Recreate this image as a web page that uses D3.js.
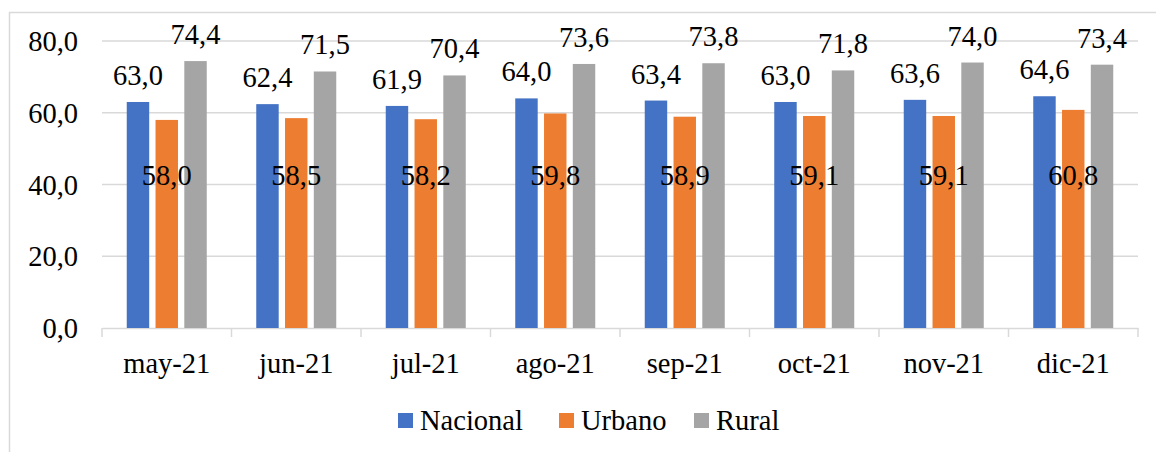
<!DOCTYPE html>
<html><head><meta charset="utf-8">
<script src="https://cdn.jsdelivr.net/npm/d3@7"></script>
<style>body{margin:0;background:#fff}svg{display:block}
svg text{font-family:"Liberation Serif","DejaVu Serif",serif !important;}</style>
</head><body>
<script>
const categories = ["may-21","jun-21","jul-21","ago-21","sep-21","oct-21","nov-21","dic-21"];
const seriesNames = ["Nacional","Urbano","Rural"];
const nacional = [63.0,62.4,61.9,64.0,63.4,63.0,63.6,64.6];
const urbano = [58.0,58.5,58.2,59.8,58.9,59.1,59.1,60.8];
const rural = [74.4,71.5,70.4,73.6,73.8,71.8,74.0,73.4];
const yTicks = [0,20,40,60,80];
const colors = ["#4472C4","#ED7D31","#A5A5A5"];

const W=1156,H=452;
const svg=d3.select("body").append("svg").attr("width",W).attr("height",H);
const fs=28.5;

// outer border
svg.append("rect").attr("x",9.5).attr("y",12.5).attr("width",W+20).attr("height",H+20)
  .attr("fill","none").attr("stroke","#d9d9d9").attr("stroke-width",1.5);

const x=d3.scaleBand().domain(categories).range([102,1138]).padding(0);
const y=d3.scaleLinear().domain([0,80]).range([328,41]);
const xs=d3.scaleBand().domain(seriesNames).range([-40,40]).paddingInner(0.22);

// grid
svg.append("g").selectAll("line").data(yTicks.filter(d=>d>0)).join("line")
  .attr("x1",102).attr("x2",1138).attr("y1",d=>y(d)).attr("y2",d=>y(d))
  .attr("stroke","#d9d9d9").attr("stroke-width",1.5);

// y axis labels
const yAxis=d3.axisLeft(y).tickValues(yTicks).tickSize(0).tickPadding(0)
  .tickFormat(d=>d3.format(".1f")(d).replace(".",","));
const ya=svg.append("g").attr("transform","translate(78,0)").call(yAxis);
ya.select(".domain").remove();
ya.selectAll("text").attr("font-size",fs).attr("fill","#000").attr("dy","0.34em");

// x axis
const xAxis=d3.axisBottom(x).tickSize(0).tickPadding(0);
const xa=svg.append("g").attr("transform","translate(0,328)").call(xAxis);
xa.select(".domain").attr("stroke","#d9d9d9").attr("stroke-width",1.5);
xa.selectAll("text").attr("font-size",fs).attr("fill","#000").attr("dy",0).attr("y",45);
// boundary ticks
const bounds=categories.map(c=>x(c)).concat([x.range()[1]]);
svg.append("g").selectAll("line").data(bounds).join("line")
  .attr("x1",d=>d).attr("x2",d=>d).attr("y1",328).attr("y2",337)
  .attr("stroke","#d9d9d9").attr("stroke-width",1.5);

const data=[nacional,urbano,rural];
seriesNames.forEach((s,si)=>{
  const g=svg.append("g");
  g.selectAll("rect").data(categories).join("rect")
    .attr("x",(c)=>x(c)+x.bandwidth()/2+xs(s))
    .attr("y",(c,i)=>y(data[si][i]))
    .attr("width",xs.bandwidth())
    .attr("height",(c,i)=>y(0)-y(data[si][i]))
    .attr("fill",colors[si]);
});
// labels
const fmt=v=>d3.format(".1f")(v).replace(".",",");
seriesNames.forEach((s,si)=>{
  svg.append("g").selectAll("text").data(categories).join("text")
    .attr("x",c=>x(c)+x.bandwidth()/2+xs(s)+xs.bandwidth()/2)
    .attr("y",(c,i)=> si===1 ? y(40)+0.5 : y(data[si][i])-17)
    .attr("text-anchor","middle")
    .attr("font-size",fs).attr("fill","#000")
    .text((c,i)=>fmt(data[si][i]));
});

// legend
const legX=[398,559,694];
const lg=svg.append("g");
seriesNames.forEach((s,i)=>{
  lg.append("rect").attr("x",legX[i]).attr("y",413).attr("width",15).attr("height",15).attr("fill",colors[i]);
  lg.append("text").attr("x",legX[i]+22).attr("y",430).attr("font-size",fs).attr("fill","#000").text(s);
});
</script>
</body></html>
